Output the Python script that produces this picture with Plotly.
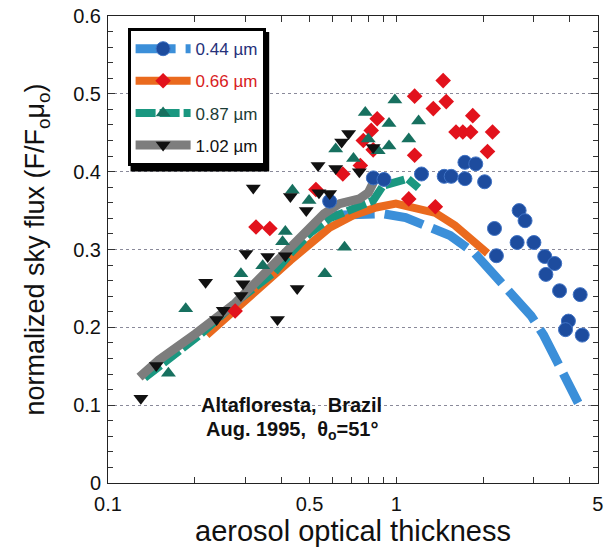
import plotly.graph_objects as go

# ---- observations (aerosol optical thickness, normalized sky flux) ----
tau_044 = [0.587, 0.832, 0.906, 1.222, 1.465, 1.549, 1.729, 1.885, 1.729, 2.023, 2.665, 2.794,
           2.189, 2.623, 2.999, 2.223, 3.27, 3.54, 3.30, 3.68, 4.34, 3.95, 3.86, 4.41]
flux_044 = [0.362, 0.392, 0.390, 0.397, 0.394, 0.394, 0.412, 0.410, 0.391, 0.387, 0.350, 0.337,
            0.327, 0.309, 0.309, 0.292, 0.291, 0.282, 0.268, 0.247, 0.242, 0.208, 0.197, 0.190]

tau_066 = [0.276, 0.326, 0.364, 0.526, 0.652, 0.750, 0.831, 0.768, 0.818, 0.858, 1.104, 1.157,
           1.157, 1.343, 1.453, 1.489, 1.365, 1.61, 1.70, 1.81, 1.84, 2.07, 2.155]
flux_066 = [0.221, 0.329, 0.327, 0.377, 0.397, 0.408, 0.428, 0.440, 0.453, 0.468, 0.365, 0.421,
            0.497, 0.481, 0.517, 0.490, 0.355, 0.451, 0.451, 0.451, 0.472, 0.426, 0.451]

tau_087 = [0.162, 0.186, 0.289, 0.344, 0.403, 0.412, 0.436, 0.498, 0.565, 0.616, 0.661, 0.710,
           0.780, 0.799, 0.865, 0.943, 0.943, 0.988, 1.104, 1.194]
flux_087 = [0.141, 0.224, 0.269, 0.279, 0.310, 0.323, 0.376, 0.363, 0.269, 0.429, 0.303, 0.417,
            0.476, 0.442, 0.427, 0.462, 0.433, 0.492, 0.442, 0.465]

tau_102 = [0.130, 0.147, 0.218, 0.238, 0.251, 0.289, 0.294, 0.301, 0.319, 0.358, 0.387, 0.412,
           0.429, 0.453, 0.487, 0.535, 0.539, 0.587, 0.616, 0.646, 0.683, 0.744, 0.831]
flux_102 = [0.109, 0.151, 0.258, 0.210, 0.222, 0.241, 0.256, 0.295, 0.379, 0.291, 0.210, 0.292,
            0.368, 0.250, 0.350, 0.408, 0.373, 0.372, 0.404, 0.438, 0.449, 0.400, 0.431]

# ---- model curves ----
model_tau_044 = [0.611, 0.727, 0.899, 1.077, 1.262, 1.536, 1.87, 2.155, 2.56, 2.93, 3.24, 3.59, 3.95, 4.27]
model_flux_044 = [0.344, 0.346, 0.346, 0.341, 0.331, 0.318, 0.295, 0.271, 0.238, 0.215, 0.190, 0.158, 0.126, 0.103]

model_tau_066 = [0.22, 0.282, 0.339, 0.429, 0.502, 0.587, 0.710, 0.851, 0.996, 1.166, 1.365, 1.597, 1.77, 1.914, 2.07]
model_flux_066 = [0.190, 0.224, 0.252, 0.286, 0.308, 0.328, 0.344, 0.354, 0.359, 0.354, 0.347, 0.331, 0.318, 0.308, 0.295]

model_tau_087 = [0.134, 0.211, 0.283, 0.378, 0.429, 0.502, 0.587, 0.710, 0.831, 0.899, 0.996, 1.094, 1.194]
model_flux_087 = [0.135, 0.192, 0.235, 0.271, 0.295, 0.321, 0.340, 0.354, 0.363, 0.382, 0.388, 0.391, 0.379]

model_tau_102 = [0.1286, 0.150, 0.2015, 0.276, 0.378, 0.464, 0.561, 0.636, 0.744, 0.799, 0.837]
model_flux_102 = [0.136, 0.158, 0.192, 0.231, 0.282, 0.314, 0.346, 0.359, 0.365, 0.373, 0.388]

labels = ["0.44 µm", "0.66 µm", "0.87 µm", "1.02 µm"]
label_colors = ["#26307a", "#d8201c", "#1c3c36", "#111111"]

y_ticks = [0, 0.1, 0.2, 0.3, 0.4, 0.5, 0.6]
y_ticktext = ["0", "0.1", "0.2", "0.3", "0.4", "0.5", "0.6"]
x_ticks = [0.1, 0.5, 1, 5]
x_ticktext = ["0.1", "0.5", "1", "5"]
x_minor = [0.2, 0.3, 0.4, 0.6, 0.7, 0.8, 0.9, 2, 3, 4]

FONT = "Liberation Sans, Arial, Helvetica, sans-serif"

c_circ = "#1d4c9e"
c_blue_line = "#3b8fd9"
c_red = "#e2121c"
c_orange = "#ea6a1e"
c_teal = "#17705f"
c_teal_line = "#1a9780"
c_black = "#111111"
c_gray = "#7d7d7d"

line_styles = [
    dict(color=c_blue_line, width=9, dash="40px,10px"),
    dict(color=c_orange, width=8, dash="solid"),
    dict(color=c_teal_line, width=8, dash="20px,4px"),
    dict(color=c_gray, width=9, dash="solid"),
]
marker_styles = [
    dict(symbol="circle", size=14, color=c_circ, line=dict(color="#3f72c4", width=1)),
    dict(symbol="diamond", size=12, color=c_red, line=dict(width=0)),
    dict(symbol="triangle-up", size=13, color=c_teal, line=dict(width=0)),
    dict(symbol="triangle-down", size=13, color=c_black, line=dict(width=0)),
]

fig = go.Figure()

models = [(model_tau_044, model_flux_044), (model_tau_066, model_flux_066),
          (model_tau_087, model_flux_087), (model_tau_102, model_flux_102)]
for (mx, my), ls in zip(models, line_styles):
    fig.add_trace(go.Scatter(x=mx, y=my, mode="lines", line=ls, showlegend=False,
                             hoverinfo="skip"))

obs = [(tau_044, flux_044), (tau_066, flux_066), (tau_087, flux_087), (tau_102, flux_102)]
for (ox, oy), ms in zip(obs, marker_styles):
    fig.add_trace(go.Scatter(x=ox, y=oy, mode="markers", marker=ms, showlegend=False))

# legend entries
for i, (lab, col, ls, ms) in enumerate(zip(labels, label_colors, line_styles, marker_styles)):
    fig.add_trace(go.Scatter(
        x=[None], y=[None], mode="lines+markers",
        name=f'<span style="color:{col}">{lab}</span>',
        line=ls, marker=ms, legendgroup=f"g{i}"))

fig.add_vline(x=0, line=dict(color="#8a8a9a", width=1.2, dash="dot"), layer="below")

# legend drop shadow
fig.add_shape(type="rect", xref="paper", yref="paper", x0=0.046, x1=0.329, y0=0.667, y1=0.966,
              fillcolor="black", line=dict(width=0), layer="above")

fig.add_annotation(xref="paper", yref="paper", x=0.375, y=0.139, showarrow=False,
                   text="<b>Altafloresta,  Brazil</b>",
                   font=dict(family=FONT, size=20, color="#111"))
fig.add_annotation(xref="paper", yref="paper", x=0.375, y=0.081, showarrow=False,
                   text="<b>Aug. 1995,  θ<sub>o</sub>=51°</b>",
                   font=dict(family=FONT, size=20, color="#111"))

fig.update_layout(
    width=608, height=550,
    margin=dict(l=108, r=5, t=15, b=67),
    paper_bgcolor="white", plot_bgcolor="white",
    font=dict(family=FONT, size=20, color="#111"),
    showlegend=True,
    legend=dict(x=0.04, y=0.974, xanchor="left", yanchor="top", bgcolor="white",
                bordercolor="black", borderwidth=3, font=dict(family=FONT, size=17),
                tracegroupgap=7, itemwidth=55),
    xaxis=dict(
        type="log", range=[-1, 0.6992],
        tickvals=x_ticks, ticktext=x_ticktext,
        ticks="inside", ticklen=6, tickcolor="#333", ticklabelstandoff=3,
        ticklabeloverflow="allow",
        minor=dict(tickvals=x_minor, ticks="inside", ticklen=6, tickcolor="#333"),
        showgrid=False, zeroline=False,
        showline=True, linecolor="#222", linewidth=1, mirror="allticks",
        title=dict(text="aerosol optical thickness", font=dict(size=29), standoff=0),
    ),
    yaxis=dict(
        range=[0, 0.6], tickvals=y_ticks, ticktext=y_ticktext,
        ticks="inside", ticklen=7, tickcolor="#333", ticklabelstandoff=2,
        minor=dict(dtick=0.02, ticks="inside", ticklen=5, tickcolor="#333"),
        showgrid=True, gridcolor="#8a8a9a", gridwidth=1.2, griddash="dot",
        zeroline=False,
        showline=True, linecolor="#222", linewidth=1, mirror="allticks",
        title=dict(text="normalized sky flux (F/F<sub>o</sub>μ<sub>o</sub>)", font=dict(size=27),
                   standoff=20),
    ),
)

fig.write_html("out.html")
